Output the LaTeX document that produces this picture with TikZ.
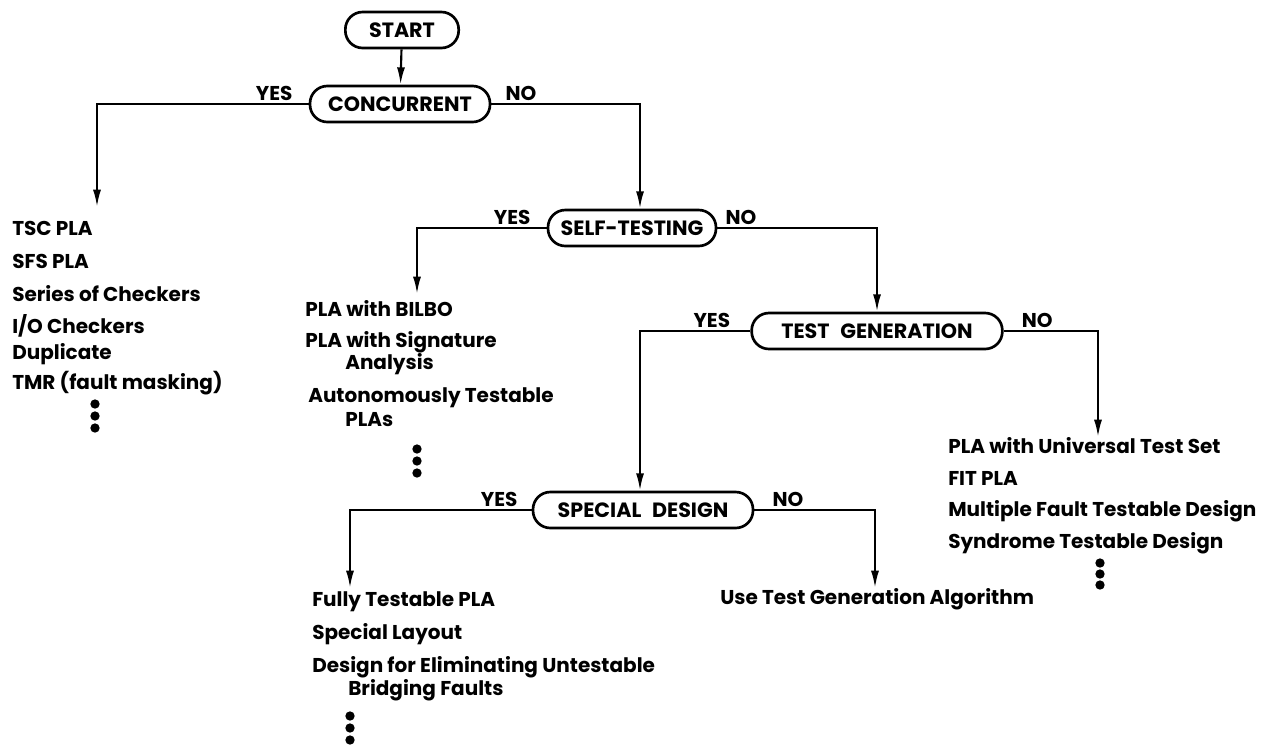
\documentclass[tikz,border=0pt]{standalone}
\usepackage{fontspec}
\setmainfont{Poppins}
\usetikzlibrary{arrows.meta,calc}
\begin{document}
\begin{tikzpicture}[x=0.75pt,y=-0.75pt,
  dec/.style={draw, line width=2pt, rounded corners=13pt, minimum height=27pt, inner sep=0pt, font=\bfseries\fontsize{15.5}{17}\selectfont},
  lbl/.style={font=\bfseries\fontsize{15}{17}\selectfont, inner sep=0pt},
  item/.style={anchor=west, font=\bfseries\fontsize{15}{17}\selectfont, inner sep=0pt},
  arr/.style={line width=1.6pt, -{Latex[length=13pt,width=6pt]}},
  dot/.style={circle, fill, inner sep=0pt, minimum size=7pt}]
\useasboundingbox (0,0) rectangle (1266,747);

% decision boxes
\node[dec, minimum width=85pt] (start) at (402,30) {START};
\node[dec, minimum width=135pt] (conc) at (400,104) {CONCURRENT};
\node[dec, minimum width=126pt] (self) at (632,228) {SELF-TESTING};
\node[dec, minimum width=188pt] (tgen) at (877,331) {TEST\hspace{8pt}GENERATION};
\node[dec, minimum width=165pt] (spec) at (643,510) {SPECIAL\hspace{8pt}DESIGN};

% branch labels
\node[lbl, anchor=south east] (y1) at ($(conc.west)+(-16,-3)$) {YES};
\node[lbl, anchor=south west] (n1) at ($(conc.east)+(14,-3)$) {NO};
\node[lbl, anchor=south east] (y2) at ($(self.west)+(-16,-3)$) {YES};
\node[lbl, anchor=south west] (n2) at ($(self.east)+(8,-3)$) {NO};
\node[lbl, anchor=south east] (y3) at ($(tgen.west)+(-20,-3)$) {YES};
\node[lbl, anchor=south west] (n3) at ($(tgen.east)+(18,-3)$) {NO};
\node[lbl, anchor=south east] (y4) at ($(spec.west)+(-14,-3)$) {YES};
\node[lbl, anchor=south west] (n4) at ($(spec.east)+(18,-3)$) {NO};

% connector end points
\coordinate (e1) at (97,207);
\coordinate (c1) at (640,104);
\coordinate (e2) at (417,294);
\coordinate (c2) at (877,228);
\coordinate (c3) at (640,331);
\coordinate (e3) at (1098,437);
\coordinate (e4) at (350,588);
\coordinate (e5) at (875,588);

% connectors
\draw[arr] (start) -- (conc);
\draw[arr] (conc.west) -| (e1);
\draw[arr] (conc.east) -- (c1) -- (self.north -| c1);
\draw[arr] (self.west) -| (e2);
\draw[arr] (self.east) -- (c2) -- (tgen.north);
\draw[arr] (tgen.west) -- (c3) -- (spec.north -| c3);
\draw[arr] (tgen.east) -| (e3);
\draw[arr] (spec.west) -| (e4);
\draw[arr] (spec.east) -| (e5);

% left list
\node[item] (a1) at (12,228) {TSC PLA};
\node[item] (a2) at (12,261) {SFS PLA};
\node[item] (a3) at (12,294) {Series of Checkers};
\node[item] (a4) at (12,326) {I/O Checkers};
\node[item] (a5) at (12,354) {Duplicate};
\node[item] (a6) at (12,383) {TMR (fault masking)};
\node[dot] (ad1) at (95,404) {};
\node[dot] (ad2) at (95,416) {};
\node[dot] (ad3) at (95,428) {};

% middle list
\node[item] (b1) at (305,309) {PLA with BILBO};
\node[item] (b2) at (305,342) {PLA with Signature};
\node[item] (b3) at (345,364) {Analysis};
\node[item] (b4) at (308,398) {Autonomously Testable};
\node[item] (b5) at (345,420) {PLAs};
\node[dot] (bd1) at (417,449) {};
\node[dot] (bd2) at (417,461) {};
\node[dot] (bd3) at (417,473) {};

% right list
\node[item] (r1) at (948,446) {PLA with Universal Test Set};
\node[item] (r2) at (948,478) {FIT PLA};
\node[item] (r3) at (948,511) {Multiple Fault Testable Design};
\node[item] (r4) at (948,543) {Syndrome Testable Design};
\node[dot] (rd1) at (1100,563) {};
\node[dot] (rd2) at (1100,574) {};
\node[dot] (rd3) at (1100,585) {};

% bottom middle
\node[item] (u1) at (720,599) {Use Test Generation Algorithm};

% bottom left list
\node[item] (s1) at (312,602) {Fully Testable PLA};
\node[item] (s2) at (312,634) {Special Layout};
\node[item] (s3) at (312,667) {Design for Eliminating Untestable};
\node[item] (s4) at (348,690) {Bridging Faults};
\node[dot] (sd1) at (350,716) {};
\node[dot] (sd2) at (350,728) {};
\node[dot] (sd3) at (350,740) {};
\end{tikzpicture}
\end{document}
